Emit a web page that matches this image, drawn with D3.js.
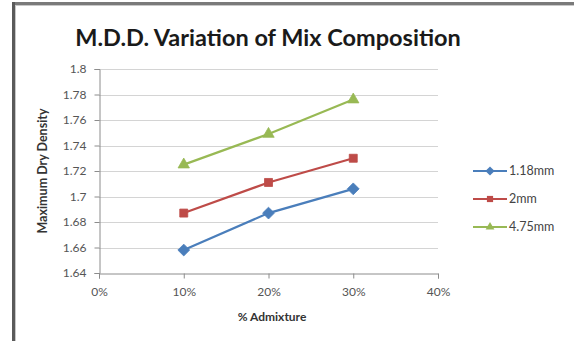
<!DOCTYPE html>
<html>
<head>
<meta charset="utf-8">
<script src="https://cdn.jsdelivr.net/npm/d3@7"></script>
<style>
  html, body { margin: 0; padding: 0; background: #fff; }
  svg { display: block; font-family: Lato, "Open Sans", sans-serif; }
</style>
</head>
<body>
<svg id="chart" width="574" height="341"></svg>
<script>
// Admixture percentage (x) and maximum dry density for each aggregate size
const admixture = [0.10, 0.20, 0.30];
const mm118 = [1.658, 1.687, 1.706];
const mm2 = [1.687, 1.711, 1.730];
const mm475 = [1.725, 1.749, 1.776];
const seriesNames = ["1.18mm", "2mm", "4.75mm"];
const xTicks = [0, 0.1, 0.2, 0.3, 0.4];
const yTicks = [1.64, 1.66, 1.68, 1.70, 1.72, 1.74, 1.76, 1.78, 1.80];

// square diamond marker: a square turned by 45 degrees
const squareDiamond = {
  draw(context, size) {
    const r = Math.sqrt(size) / Math.SQRT2 * 1.0;
    context.moveTo(0, -r);
    context.lineTo(r, 0);
    context.lineTo(0, r);
    context.lineTo(-r, 0);
    context.closePath();
  }
};

const series = [
  { name: seriesNames[0], values: mm118, color: "#4a7ebb", symbol: squareDiamond, size: 70 },
  { name: seriesNames[1], values: mm2, color: "#be4b48", symbol: d3.symbolSquare, size: 64 },
  { name: seriesNames[2], values: mm475, color: "#98b954", symbol: d3.symbolTriangle, size: 56 }
];

const svg = d3.select("#chart");
const plot = { left: 99, right: 438, top: 69, bottom: 273 };

const x = d3.scaleLinear().domain([0, 0.4]).range([plot.left, plot.right]);
const y = d3.scaleLinear().domain([1.64, 1.80]).range([plot.bottom, plot.top]);

// outer frame edges (top and left)
svg.append("rect").attr("x", 12).attr("y", 2).attr("width", 562).attr("height", 3).attr("fill", "#7a7a7a");
svg.append("rect").attr("x", 12).attr("y", 2).attr("width", 3).attr("height", 339).attr("fill", "#5a5a5a");
svg.append("rect").attr("x", 15).attr("y", 5).attr("width", 559).attr("height", 1).attr("fill", "#c8c8c8");
svg.append("rect").attr("x", 15).attr("y", 5).attr("width", 1).attr("height", 336).attr("fill", "#c8c8c8");

// title
svg.append("text")
  .attr("x", 268).attr("y", 46)
  .attr("text-anchor", "middle")
  .attr("font-size", 23.5).attr("font-weight", "bold")
  .attr("fill", "#1a1a1a")
  .text("M.D.D. Variation of Mix Composition");

// horizontal gridlines
svg.append("g").selectAll("line").data(yTicks.filter(t => t > 1.64)).join("line")
  .attr("x1", plot.left).attr("x2", plot.right)
  .attr("y1", d => Math.round(y(d)) + 0.5).attr("y2", d => Math.round(y(d)) + 0.5)
  .attr("stroke", "#d4d4d4").attr("stroke-width", 1);

// y axis
const yAxis = svg.append("g")
  .attr("transform", `translate(${plot.left + 0.5},0)`)
  .call(d3.axisLeft(y).tickValues(yTicks).tickSize(5).tickPadding(8)
    .tickFormat(d => d3.format("")(+d.toFixed(2))));
yAxis.select(".domain").attr("stroke", "#8c8c8c");
yAxis.selectAll(".tick line").attr("stroke", "#8c8c8c");
yAxis.selectAll("text").attr("font-size", 12).attr("fill", "#555").attr("font-family", "Lato, sans-serif");

// x axis
const xAxis = svg.append("g")
  .attr("transform", `translate(0,${Math.round(plot.bottom) + 0.5})`)
  .call(d3.axisBottom(x).tickValues(xTicks).tickSize(5).tickPadding(9)
    .tickFormat(d3.format(".0%")));
xAxis.select(".domain").attr("stroke", "#8c8c8c");
xAxis.selectAll(".tick line").attr("stroke", "#8c8c8c");
xAxis.selectAll("text").attr("font-size", 12).attr("fill", "#555").attr("font-family", "Lato, sans-serif");

// axis titles
svg.append("text")
  .attr("x", 272).attr("y", 321)
  .attr("text-anchor", "middle")
  .attr("font-size", 12).attr("font-weight", "bold").attr("fill", "#333")
  .text("% Admixture");
svg.append("text")
  .attr("transform", `translate(47,${(plot.top + plot.bottom) / 2}) rotate(-90)`)
  .attr("text-anchor", "middle")
  .attr("font-size", 12.5).attr("font-weight", "bold").attr("fill", "#333")
  .text("Maximum Dry Density");

// series lines and markers
const line = d3.line().x((d, i) => x(admixture[i])).y(d => y(d));
series.forEach(s => {
  svg.append("path")
    .datum(s.values)
    .attr("d", line)
    .attr("fill", "none")
    .attr("stroke", s.color)
    .attr("stroke-width", 2.2);
  svg.append("g").selectAll("path").data(s.values).join("path")
    .attr("transform", (d, i) => `translate(${x(admixture[i])},${y(d)})`)
    .attr("d", d3.symbol().type(s.symbol).size(s.size))
    .attr("fill", s.color)
    .attr("stroke", s.color)
    .attr("stroke-width", 0.8);
});

// legend
const legend = svg.append("g").selectAll("g").data(series).join("g")
  .attr("transform", (d, i) => `translate(473,${171 + i * 28})`);
legend.append("line")
  .attr("x1", 0).attr("x2", 34).attr("y1", 0).attr("y2", 0)
  .attr("stroke", d => d.color).attr("stroke-width", 2.2);
legend.append("path")
  .attr("transform", "translate(17,0)")
  .attr("d", d => d3.symbol().type(d.symbol).size(d.size * 0.6)())
  .attr("fill", d => d.color);
legend.append("text")
  .attr("x", 36).attr("y", 0).attr("dy", "0.35em")
  .attr("font-size", 12.5).attr("fill", "#444")
  .text(d => d.name);
</script>
</body>
</html>
